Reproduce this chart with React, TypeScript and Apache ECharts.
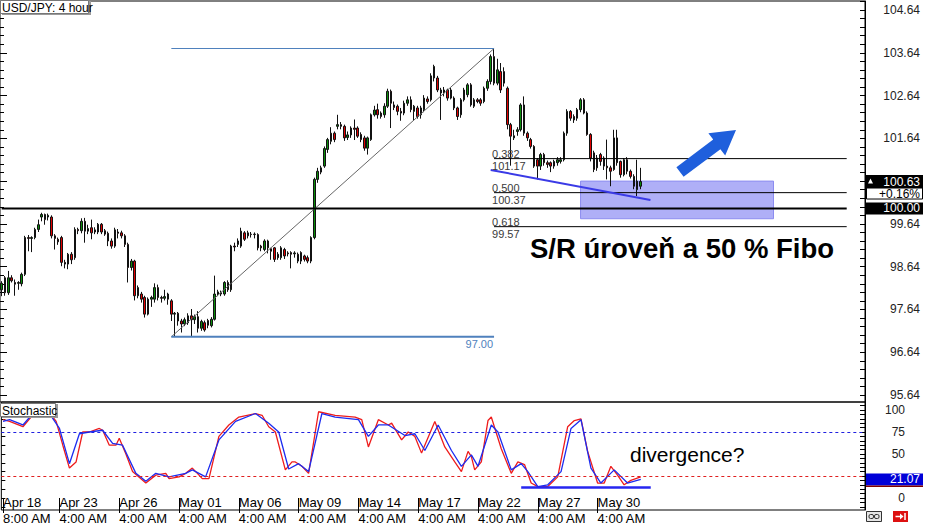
import React, { useEffect, useRef } from "react";
import * as echarts from "echarts";

// ---------- DATA (USD/JPY 4 hour) ----------
const opens = [
  98.10, 98.38, 98.03, 98.38, 98.27, 98.25, 98.24, 98.46, 99.32, 99.30,
  99.32, 99.51, 99.80, 99.86, 99.80, 99.80, 99.36, 99.28, 99.32, 98.74,
  98.70, 98.93, 98.85, 99.51, 99.48, 99.70, 99.47, 99.55, 99.45, 99.45,
  99.63, 99.48, 99.42, 99.24, 99.12, 99.45, 99.43, 99.36, 99.16, 98.62,
  98.77, 97.96, 98.00, 97.92, 97.53, 97.88, 97.88, 98.15, 97.92, 97.90,
  98.00, 97.84, 97.53, 97.55, 97.37, 97.30, 97.33, 97.49, 97.40, 97.47,
  97.20, 97.33, 97.38, 97.26, 97.41, 98.00, 98.00, 98.00, 98.27, 98.10,
  99.12, 99.16, 99.12, 99.43, 99.36, 99.40, 99.39, 99.39, 99.12, 99.04,
  99.24, 99.06, 99.08, 98.85, 98.85, 99.04, 98.96, 98.97, 98.94, 98.93,
  98.97, 98.89, 98.85, 98.77, 99.32, 100.68, 100.85, 100.99, 101.38, 101.57,
  101.76, 101.92, 101.96, 101.92, 101.66, 101.72, 101.88, 101.88, 101.73, 101.65,
  101.41, 101.61, 102.19, 102.31, 102.23, 102.19, 102.39, 102.74, 102.42, 102.39,
  102.27, 102.23, 102.46, 102.54, 102.27, 102.35, 102.19, 102.31, 102.56, 102.54,
  103.05, 103.05, 102.77, 102.70, 102.77, 102.58, 102.58, 102.35, 102.19, 102.54,
  102.66, 102.89, 102.39, 102.54, 102.54, 102.50, 102.81, 102.97, 103.55, 102.93,
  103.20, 103.20, 102.81, 101.96, 101.65, 101.80, 101.84, 102.42, 101.76, 101.61,
  101.45, 101.14, 100.99, 101.26, 101.07, 101.07, 100.99, 101.07, 101.10, 101.14,
  101.76, 102.27, 102.15, 102.11, 102.31, 102.54, 102.23, 101.73, 101.30, 100.95,
  101.26, 101.18, 100.99, 100.95, 100.91, 101.65, 101.10, 100.79, 101.14, 100.87,
  100.75, 100.44, 100.52,
];
const closes = [
  98.25, 98.03, 98.38, 98.31, 98.23, 98.27, 98.46, 99.32, 99.30, 99.32,
  99.51, 99.62, 99.86, 99.74, 99.84, 99.36, 99.30, 99.22, 98.74, 98.70,
  98.93, 98.80, 99.51, 99.48, 99.70, 99.47, 99.53, 99.43, 99.50, 99.63,
  99.45, 99.40, 99.24, 99.12, 99.50, 99.42, 99.36, 99.16, 98.62, 98.77,
  97.96, 98.15, 97.88, 97.53, 97.88, 97.92, 98.15, 97.92, 97.90, 97.94,
  97.88, 97.53, 97.55, 97.37, 97.30, 97.40, 97.49, 97.40, 97.47, 97.20,
  97.36, 97.16, 97.27, 97.41, 98.00, 98.05, 98.03, 98.27, 98.10, 99.12,
  99.10, 99.24, 99.47, 99.28, 99.43, 99.39, 99.40, 99.08, 99.08, 99.24,
  99.08, 99.00, 98.81, 98.93, 99.08, 98.89, 98.94, 98.93, 98.96, 98.77,
  98.77, 98.81, 98.77, 99.32, 100.68, 100.87, 100.95, 101.40, 101.61, 101.76,
  101.61, 101.96, 101.92, 101.65, 101.72, 101.88, 101.85, 101.69, 101.61, 101.41,
  101.65, 102.19, 102.30, 102.19, 102.15, 102.39, 102.74, 102.46, 102.36, 102.27,
  102.23, 102.46, 102.54, 102.31, 102.39, 102.15, 102.35, 102.58, 102.50, 103.10,
  103.32, 102.77, 102.70, 102.77, 102.58, 102.77, 102.35, 102.15, 102.54, 102.77,
  102.89, 102.42, 102.54, 102.50, 102.46, 102.81, 102.97, 103.55, 102.93, 103.24,
  102.77, 102.93, 101.96, 101.69, 101.70, 101.84, 102.42, 101.76, 101.65, 101.45,
  100.99, 100.99, 101.26, 101.07, 101.03, 100.99, 101.10, 101.14, 101.14, 101.76,
  102.27, 102.11, 102.07, 102.31, 102.54, 102.23, 101.73, 101.18, 100.91, 101.18,
  101.10, 100.99, 100.95, 100.87, 101.65, 101.07, 100.79, 101.14, 100.87, 100.75,
  100.52, 100.64, 100.63,
];
const lows = [
  97.95, 97.96, 97.98, 98.27, 97.96, 98.10, 98.18, 98.42, 99.00, 98.98,
  99.28, 99.45, 99.70, 99.62, 99.72, 99.30, 99.04, 99.15, 98.65, 98.60,
  98.58, 98.70, 98.80, 99.40, 99.42, 99.20, 99.40, 99.28, 99.40, 99.40,
  99.40, 99.36, 99.12, 99.06, 99.08, 99.30, 99.30, 99.10, 98.27, 98.55,
  97.85, 97.90, 97.80, 97.45, 97.50, 97.70, 97.80, 97.85, 97.80, 97.85,
  97.75, 97.37, 97.00, 97.26, 97.10, 97.25, 97.28, 97.00, 97.30, 97.10,
  97.14, 97.12, 97.20, 97.22, 97.38, 97.95, 97.95, 97.96, 98.05, 98.05,
  99.00, 99.10, 99.08, 99.24, 99.30, 99.32, 99.30, 99.02, 99.00, 99.00,
  98.95, 98.80, 98.75, 98.80, 98.80, 98.82, 98.88, 98.60, 98.85, 98.72,
  98.70, 98.76, 98.72, 98.72, 99.28, 100.60, 100.80, 100.95, 101.30, 101.50,
  101.55, 101.85, 101.85, 101.58, 101.60, 101.65, 101.60, 101.65, 101.55, 101.35,
  101.26, 101.58, 102.15, 102.10, 102.10, 102.12, 102.35, 101.88, 102.30, 102.18,
  102.05, 102.18, 102.40, 102.25, 102.05, 102.10, 102.10, 102.25, 102.45, 102.50,
  102.97, 102.72, 102.07, 102.62, 102.52, 102.55, 102.30, 102.07, 102.12, 102.50,
  102.60, 102.38, 102.35, 102.46, 102.40, 102.46, 102.75, 102.90, 102.88, 102.88,
  102.70, 102.85, 101.85, 101.00, 101.60, 101.70, 101.80, 101.70, 101.58, 101.40,
  100.95, 100.68, 100.90, 101.00, 100.95, 100.85, 100.93, 101.00, 101.05, 101.10,
  101.70, 102.05, 102.00, 102.05, 102.25, 102.20, 101.70, 101.10, 100.85, 100.88,
  101.00, 100.90, 100.68, 100.52, 100.88, 101.00, 100.72, 100.75, 100.80, 100.70,
  100.45, 100.29, 100.45,
];
const highs = [
  98.30, 98.42, 98.54, 98.44, 98.34, 98.30, 98.50, 99.36, 99.38, 99.35,
  99.55, 99.74, 99.90, 99.88, 99.88, 99.84, 99.40, 99.32, 99.36, 98.80,
  98.96, 98.98, 99.56, 99.55, 99.77, 99.78, 99.62, 99.74, 99.56, 99.66,
  99.66, 99.52, 99.46, 99.30, 99.55, 99.52, 99.48, 99.40, 99.20, 98.82,
  98.80, 98.20, 98.05, 97.96, 97.92, 97.96, 98.25, 98.22, 97.96, 98.10,
  98.03, 97.88, 97.58, 97.58, 97.42, 97.45, 97.55, 97.65, 97.52, 97.60,
  97.40, 97.38, 97.42, 97.46, 98.43, 98.10, 98.08, 98.30, 98.32, 99.15,
  99.20, 99.30, 99.55, 99.47, 99.48, 99.45, 99.44, 99.42, 99.15, 99.28,
  99.27, 99.08, 99.10, 98.98, 99.12, 99.08, 99.00, 99.00, 99.00, 98.97,
  99.00, 98.92, 98.90, 99.35, 100.72, 100.95, 101.00, 101.45, 101.65, 101.90,
  101.80, 102.19, 102.02, 101.96, 101.80, 101.92, 102.08, 101.92, 101.78, 101.70,
  101.68, 102.22, 102.40, 102.45, 102.27, 102.46, 102.80, 102.78, 102.50, 102.43,
  102.35, 102.52, 102.62, 102.62, 102.42, 102.40, 102.40, 102.65, 102.62, 103.16,
  103.36, 103.10, 102.82, 102.84, 102.80, 102.82, 102.62, 102.38, 102.58, 102.82,
  102.93, 102.93, 102.58, 102.58, 102.58, 102.85, 103.02, 103.60, 103.74, 103.50,
  103.40, 103.30, 102.85, 102.00, 101.84, 101.90, 102.46, 102.62, 101.80, 101.65,
  101.48, 101.18, 101.30, 101.30, 101.12, 101.10, 101.14, 101.20, 101.20, 101.80,
  102.32, 102.30, 102.20, 102.35, 102.58, 102.58, 102.27, 101.76, 101.35, 101.25,
  101.30, 101.22, 101.61, 101.00, 101.84, 101.84, 101.12, 101.18, 101.20, 100.91,
  100.80, 101.14, 100.95,
];

// Stochastic %K (red) and %D (blue): [candle index, value]
const stochK: [number, number][] = [
  [0, 89], [2, 87], [6, 81], [8, 90], [10, 98], [14, 97], [16, 87], [18, 60], [20, 34], [22, 41],
  [24, 75], [26, 75], [29, 79], [30, 77], [32, 60], [34, 60], [35, 68], [37, 50], [39, 30], [43, 17],
  [46, 26], [49, 28], [50, 22], [53, 24], [55, 28], [57, 34], [60, 22], [62, 22], [65, 70], [68, 83],
  [71, 92], [76, 96], [78, 94], [80, 81], [82, 75], [85, 32], [87, 41], [88, 41], [90, 36], [92, 28],
  [95, 98], [100, 94], [106, 92], [108, 89], [110, 58], [113, 89], [116, 83], [117, 85], [120, 66], [122, 75],
  [124, 70], [126, 51], [130, 87], [133, 58], [136, 41], [138, 30], [140, 53], [141, 47], [142, 32], [144, 41],
  [146, 88], [147, 92], [150, 56], [153, 28], [155, 41], [157, 38], [159, 17], [161, 13], [164, 13], [167, 24],
  [170, 81], [172, 88], [174, 90], [176, 53], [179, 17], [181, 17], [183, 36], [185, 26], [187, 15], [189, 20],
  [192, 24],
];
const stochD: [number, number][] = [
  [0, 87], [2, 89], [6, 83], [9, 96], [14, 96], [17, 79], [20, 39], [23, 73], [26, 75], [30, 77],
  [33, 62], [36, 60], [40, 28], [43, 19], [46, 28], [50, 24], [55, 28], [57, 32], [61, 24], [65, 66],
  [70, 87], [76, 96], [80, 85], [83, 75], [86, 33], [89, 39], [92, 30], [96, 96], [100, 92], [107, 89],
  [110, 70], [113, 83], [116, 83], [121, 71], [124, 73], [127, 54], [131, 83], [135, 54], [138, 36], [141, 49],
  [143, 36], [147, 83], [149, 75], [153, 32], [156, 39], [158, 30], [161, 13], [164, 15], [168, 30], [171, 79],
  [174, 89], [177, 34], [180, 17], [184, 32], [188, 17], [192, 21.07],
];

const priceLabels = [95.64, 96.64, 97.64, 98.64, 99.64, 100.64, 101.64, 102.64, 103.64, 104.64];
const stochLabels = [0, 50, 75, 100];
const dateLabels = ["Apr 18", "Apr 23", "Apr 26", "May 01", "May 06", "May 09", "May 14", "May 17", "May 22", "May 27", "May 30"];
const timeLabels = ["8:00 AM", "4:00 AM", "4:00 AM", "4:00 AM", "4:00 AM", "4:00 AM", "4:00 AM", "4:00 AM", "4:00 AM", "4:00 AM", "4:00 AM"];
const labelIdx = [0, 17, 35, 53, 71, 89, 107, 125, 143, 161, 179];

// Fibonacci retracement
const fibLow = 97.0;
const fibHigh = 103.74;
const fibRatios = [0.382, 0.5, 0.618];
const fibLowIdx = 51;
const fibHighIdx = 148;
const fibEndIdx = 254;
const srLevel = 100.0;
const lastPrice = 100.63;
const changeText = "+0.16%";
const lastStoch = 21.07;
const zoneTop = 100.64;
const zoneBottom = 99.76;
const zoneStart = 174;
const zoneEnd = 232;
const trendLine: [number, number][] = [[147, 100.9], [195, 100.2]];
const divergenceLine: [number, number][] = [[156, 12], [195, 12]];
const stochLevels = [75, 25];

const SLOTS = 260;
const FONT = '"Liberation Sans", Arial, sans-serif';

export default function App() {
  const ref = useRef<HTMLDivElement>(null);
  useEffect(() => {
    const chart = echarts.init(ref.current!, null, { renderer: "svg" });
    const cats = Array.from({ length: SLOTS }, (_, i) => String(i));
    const candles = opens.map((o, i) => [o, closes[i], lows[i], highs[i]]);
    const minorPrice: number[] = [];
    for (let v = 95.64; v <= 104.85; v += 0.2) minorPrice.push(+v.toFixed(2));
    const stochTicksR: number[] = [];
    for (let v = -10; v <= 105; v += 5) stochTicksR.push(v);
    const stochTicksL: number[] = [];
    for (let v = -10; v <= 105; v += 10) stochTicksL.push(v);
    const isLabel = (i: number) => labelIdx.indexOf(i) >= 0;
    const pMin = 95.476, pMax = 104.85;
    const sMin = -13.64, sMax = 109.09;

    const lineS = (data: any[], color: string, width: number, extra: any = {}) => ({
      type: "line", xAxisIndex: 0, yAxisIndex: 0, data, symbol: "none", silent: true,
      lineStyle: { color, width }, z: 4, ...extra,
    });

    const fibSeries = fibRatios.map((r) => {
      const lv = fibHigh - r * (fibHigh - fibLow);
      return lineS([[fibHighIdx, lv], [fibEndIdx, lv]], "#000", 1);
    });

    const option: any = {
      animation: false,
      backgroundColor: "#fff",
      textStyle: { fontFamily: FONT },
      grid: [
        { left: 0, top: 1, width: 865, height: 401, show: true, borderColor: "#000", borderWidth: 1 },
        { left: 0, top: 402, width: 865, height: 108, show: true, borderColor: "#000", borderWidth: 1 },
      ],
      xAxis: [
        { type: "category", gridIndex: 0, data: cats, axisLine: { show: false }, axisTick: { show: false }, axisLabel: { show: false }, splitLine: { show: false } },
        {
          type: "category", gridIndex: 1, data: cats, axisLine: { show: false }, axisTick: { show: false }, splitLine: { show: false },
          axisLabel: {
            inside: true, interval: (i: number) => isLabel(i), margin: 1, align: "left", verticalAlign: "bottom",
            fontSize: 13, color: "#000", fontFamily: FONT,
            formatter: (_v: string, i: number) => dateLabels[labelIdx.indexOf(i)] ?? "",
          },
        },
        {
          type: "category", gridIndex: 1, data: cats, position: "bottom", axisLine: { show: false }, splitLine: { show: false },
          axisTick: { show: true, alignWithLabel: true, interval: (i: number) => isLabel(i), length: 15, lineStyle: { color: "#000", width: 1 } },
          axisLabel: {
            interval: (i: number) => isLabel(i), margin: 2, align: "left", verticalAlign: "top",
            fontSize: 13, color: "#000", fontFamily: FONT,
            formatter: (_v: string, i: number) => timeLabels[labelIdx.indexOf(i)] ?? "",
          },
        },
      ],
      yAxis: [
        {
          type: "value", gridIndex: 0, position: "right", min: pMin, max: pMax, splitLine: { show: false },
          axisLine: { show: true, lineStyle: { color: "#000" } },
          axisTick: { show: true, inside: true, length: 5, customValues: minorPrice, lineStyle: { color: "#000" } },
          axisLabel: { customValues: priceLabels, formatter: (v: number) => v.toFixed(2), align: "right", margin: 55, fontSize: 12, color: "#222", fontFamily: FONT },
        },
        {
          type: "value", gridIndex: 0, position: "left", min: pMin, max: pMax, splitLine: { show: false },
          axisLine: { show: false }, axisLabel: { show: false },
          axisTick: { show: true, inside: true, length: 4, customValues: minorPrice, lineStyle: { color: "#000" } },
        },
        {
          type: "value", gridIndex: 0, position: "left", min: pMin, max: pMax, splitLine: { show: false },
          axisLine: { show: false }, axisLabel: { show: false },
          axisTick: { show: true, inside: true, length: 7, customValues: priceLabels, lineStyle: { color: "#000" } },
        },
        {
          type: "value", gridIndex: 1, position: "right", min: sMin, max: sMax, splitLine: { show: false },
          axisLine: { show: true, lineStyle: { color: "#000" } },
          axisTick: { show: true, inside: true, length: 5, customValues: stochTicksR, lineStyle: { color: "#000" } },
          axisLabel: { customValues: stochLabels, align: "right", margin: 40, fontSize: 12, color: "#222", fontFamily: FONT },
        },
        {
          type: "value", gridIndex: 1, position: "left", min: sMin, max: sMax, splitLine: { show: false },
          axisLine: { show: false }, axisLabel: { show: false },
          axisTick: { show: true, inside: true, length: 4, customValues: stochTicksL, lineStyle: { color: "#000" } },
        },
      ],
      series: [
        {
          type: "candlestick", xAxisIndex: 0, yAxisIndex: 0, data: candles, barWidth: 2, silent: true, z: 2,
          itemStyle: { color: "#0a8c0a", color0: "#e00000", borderColor: "#111", borderColor0: "#111", borderWidth: 1 },
        },
        lineS([[fibLowIdx, fibLow], [fibHighIdx, fibHigh]], "#666", 1),
        lineS([[fibLowIdx, fibHigh], [fibHighIdx, fibHigh]], "#4f81bd", 1.2),
        lineS([[fibLowIdx, fibLow], [fibHighIdx, fibLow]], "#4f81bd", 2),
        ...fibSeries,
        lineS([[0, srLevel], [fibEndIdx, srLevel]], "#000", 2),
        lineS(trendLine, "#3a3ae6", 2),
        {
          type: "line", xAxisIndex: 0, yAxisIndex: 0, data: [[zoneStart, zoneTop], [zoneEnd, zoneBottom]], symbol: "none",
          lineStyle: { opacity: 0 }, silent: true, z: 6,
          markArea: {
            silent: true,
            itemStyle: { color: "rgba(95,95,240,0.5)", borderColor: "#8c8cf0", borderWidth: 1 },
            data: [[{ xAxis: zoneStart, yAxis: zoneTop }, { xAxis: zoneEnd, yAxis: zoneBottom }]],
          },
        },
        {
          type: "line", xAxisIndex: 1, yAxisIndex: 3, data: stochK, symbol: "none", silent: true,
          lineStyle: { color: "#ee1c1c", width: 1.3 }, z: 3,
          markLine: {
            silent: true, symbol: "none", label: { show: false },
            data: [
              { yAxis: stochLevels[0], lineStyle: { color: "#2020e0", type: [3, 3], width: 1 } },
              { yAxis: stochLevels[1], lineStyle: { color: "#e02020", type: [3, 3], width: 1 } },
            ],
          },
        },
        { type: "line", xAxisIndex: 1, yAxisIndex: 3, data: stochD, symbol: "none", silent: true, lineStyle: { color: "#1c2cf0", width: 1.3 }, z: 4 },
        { type: "line", xAxisIndex: 1, yAxisIndex: 3, data: divergenceLine, symbol: "none", silent: true, lineStyle: { color: "#2626f0", width: 2.5 }, z: 5 },
      ],
    };
    chart.setOption(option);

    const px = (i: number) => chart.convertToPixel({ xAxisIndex: 0 }, i) as number;
    const py = (v: number) => chart.convertToPixel({ yAxisIndex: 0 }, v) as number;
    const sy = (v: number) => chart.convertToPixel({ yAxisIndex: 3 }, v) as number;

    const g: any[] = [];
    const txt = (text: string, x: number, y: number, o: any = {}) => ({
      type: "text", x, y, z: 100, silent: true,
      style: {
        text, fill: o.fill ?? "#000", fontSize: o.size ?? 12, fontWeight: o.weight ?? "normal", fontFamily: FONT,
        align: o.align ?? "left", verticalAlign: "middle", lineHeight: o.lh,
      },
    });

    // Fib labels
    const fx = px(fibHighIdx) - 2;
    fibRatios.forEach((r) => {
      const lv = fibHigh - r * (fibHigh - fibLow);
      const y = py(lv);
      g.push(txt(r.toFixed(3), fx, y - 5, { size: 11, fill: "#3a3a3a", lh: 11 }));
      g.push(txt(lv.toFixed(2), fx, y + 7, { size: 11, fill: "#3a3a3a", lh: 11 }));
    });
    g.push(txt(fibLow.toFixed(2), px(fibHighIdx) - 1, py(fibLow) + 7, { size: 11, fill: "#4f81bd", align: "right" }));

    // Arrow
    g.push({
      type: "polygon", z: 50, silent: true,
      shape: { points: [[683.6, 176.8], [720.4, 149.2], [725.2, 155.6], [736, 130], [708.4, 133.2], [713.2, 139.6], [676.4, 167.2]] },
      style: { fill: "#1f5fdc" },
    });

    // Annotations
    g.push(txt("S/R úroveň a 50 % Fibo", 530, 248, { size: 27.5, weight: "bold" }));
    g.push(txt("divergence?", 630, 454, { size: 21 }));

    // Title boxes
    g.push({ type: "rect", z: 90, silent: true, shape: { x: 2, y: 1, width: 89, height: 14 }, style: { fill: "#9a9a9a" } });
    g.push({ type: "rect", z: 91, silent: true, shape: { x: 0.5, y: 0.5, width: 88, height: 13 }, style: { fill: "#fff", stroke: "#777", lineWidth: 1 } });
    g.push(txt("USD/JPY: 4 hour", 2, 7.5, { size: 12 }));
    g.push({ type: "rect", z: 90, silent: true, shape: { x: 2, y: 404, width: 56, height: 14 }, style: { fill: "#9a9a9a" } });
    g.push({ type: "rect", z: 91, silent: true, shape: { x: 0.5, y: 403.5, width: 55, height: 13 }, style: { fill: "#fff", stroke: "#777", lineWidth: 1 } });
    g.push(txt("Stochastic", 2, 410.5, { size: 12 }));

    // Right-side value boxes
    const yLast = py(lastPrice);
    g.push({ type: "rect", z: 90, silent: true, shape: { x: 866, y: yLast - 6.5, width: 57, height: 13 }, style: { fill: "#000" } });
    g.push({ type: "polygon", z: 95, silent: true, shape: { points: [[868, yLast + 2], [873, yLast + 2], [870.5, yLast - 3]] }, style: { fill: "#fff" } });
    g.push(txt(lastPrice.toFixed(2), 920, yLast, { fill: "#fff", align: "right", lh: 11 }));
    g.push({ type: "rect", z: 90, silent: true, shape: { x: 866.5, y: yLast + 6.5, width: 56, height: 11 }, style: { fill: "#fff", stroke: "#000", lineWidth: 1 } });
    g.push(txt(changeText, 920, yLast + 12.5, { align: "right", lh: 11 }));
    const ySr = py(srLevel);
    g.push({ type: "rect", z: 90, silent: true, shape: { x: 866, y: ySr - 6, width: 57, height: 12 }, style: { fill: "#000" } });
    g.push(txt(srLevel.toFixed(2), 920, ySr, { fill: "#fff", align: "right", lh: 11 }));
    const ySt = sy(lastStoch);
    g.push({ type: "rect", z: 90, silent: true, shape: { x: 866, y: ySt - 6, width: 57, height: 12 }, style: { fill: "#0000d8" } });
    g.push({ type: "rect", z: 90, silent: true, shape: { x: 866, y: ySt + 6, width: 57, height: 1.5 }, style: { fill: "#800000" } });
    g.push(txt(lastStoch.toFixed(2), 920, ySt, { fill: "#fff", align: "right", lh: 11 }));

    // Bottom-right icons
    g.push({ type: "rect", z: 90, silent: true, shape: { x: 866.5, y: 511.5, width: 15, height: 10 }, style: { fill: "#e6e6e6", stroke: "#333", lineWidth: 1 } });
    g.push({ type: "rect", z: 91, silent: true, shape: { x: 869, y: 514.5, width: 4.5, height: 4, r: 1.5 }, style: { fill: "none", stroke: "#333", lineWidth: 1 } });
    g.push({ type: "rect", z: 91, silent: true, shape: { x: 874.5, y: 514.5, width: 4.5, height: 4, r: 1.5 }, style: { fill: "none", stroke: "#333", lineWidth: 1 } });
    g.push({ type: "rect", z: 90, silent: true, shape: { x: 893, y: 511, width: 15, height: 11 }, style: { fill: "#dd1111" } });
    g.push({ type: "line", z: 91, silent: true, shape: { x1: 895.5, y1: 516.5, x2: 901, y2: 516.5 }, style: { stroke: "#fff", lineWidth: 1.5 } });
    g.push({ type: "polygon", z: 91, silent: true, shape: { points: [[900, 513.5], [903.5, 516.5], [900, 519.5]] }, style: { fill: "#fff" } });
    g.push({ type: "line", z: 91, silent: true, shape: { x1: 905, y1: 513, x2: 905, y2: 520 }, style: { stroke: "#fff", lineWidth: 1.5 } });

    chart.setOption({ graphic: g });
    return () => chart.dispose();
  }, []);
  return <div ref={ref} style={{ position: "fixed", left: 0, top: 0, width: 925, height: 525, background: "#fff" }} />;
}
